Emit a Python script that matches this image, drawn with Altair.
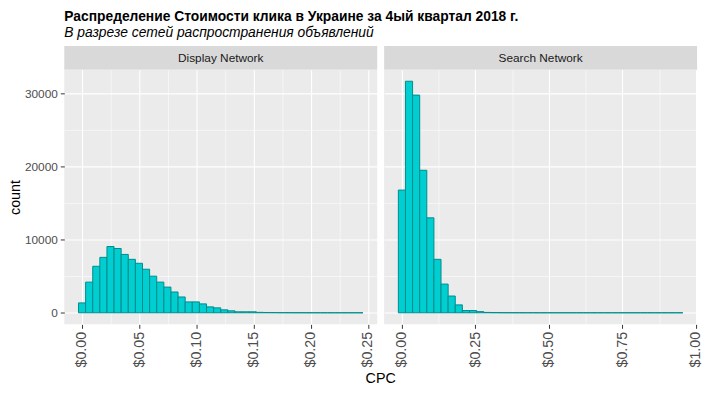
import altair as alt
import pandas as pd

# ---- data ----
networks = ["Display Network", "Search Network"]

display_counts = [1350, 4190, 6350, 7570, 9050, 8780, 7970, 7300, 6760, 5950,
                  5000, 4190, 3510, 2840, 2160, 1490, 1490, 1216, 810, 675,
                  405, 270, 135, 135, 135, 60, 40, 30, 20, 15,
                  10, 8, 5, 4, 3, 2, 2, 1, 1, 1]
display_bin_width = 0.00622

search_counts = [16760, 31620, 29730, 19460, 12970, 7300, 3920, 2290, 1080, 310,
                 310, 160, 50, 30, 20, 10, 8, 5, 4, 3,
                 2, 2, 1, 1, 1, 1, 1, 1, 1, 1,
                 1, 1, 1, 1, 1, 1, 1, 1, 1, 1]
search_bin_width = 0.0242

display_ticks = [0, 0.025, 0.05, 0.075, 0.10, 0.125, 0.15, 0.175, 0.20, 0.225, 0.25]
search_ticks = [0, 0.125, 0.25, 0.375, 0.5, 0.625, 0.75, 0.875, 1.0]
y_ticks = [0, 5000, 10000, 15000, 20000, 25000, 30000]
x_title = "CPC"
y_title = "count"

FONT = "Liberation Sans"
FILL = "#00CED1"
STROKE = "#008B8B"
PANEL_W = 317
PANEL_H = 258
STRIP_H = 24
GAP = 7


def bins_frame(counts, w):
    rows = []
    for i, c in enumerate(counts):
        rows.append({"start": (i - 0.5) * w, "end": (i + 0.5) * w, "count": c})
    return pd.DataFrame(rows)


ymax_data = max(max(display_counts), max(search_counts))
y_domain = [-0.05 * ymax_data, 1.05 * ymax_data]


def panel(df, ticks, major_mult, show_y):
    lo, hi = df["start"].min(), df["end"].max()
    span = hi - lo
    x_domain = [lo - 0.05 * span, hi + 0.05 * span]
    major_test = f"abs(datum.value*{major_mult} - round(datum.value*{major_mult})) < 1e-6"
    x_axis = alt.Axis(
        title=None,
        values=ticks,
        grid=True,
        gridColor="white",
        gridWidth={"condition": {"test": major_test, "value": 1.1}, "value": 0.55},
        domain=False,
        tickColor="#333333",
        tickSize=4,
        tickOpacity={"condition": {"test": major_test, "value": 1}, "value": 0},
        labelExpr=f"{major_test} ? '$' + format(datum.value, '.2f') : ''",
        labelAngle=270,
        labelFontSize=14.5,
        labelColor="#4D4D4D",
        labelPadding=3,
        labelFont=FONT,
    )

    y_major = "datum.value % 10000 === 0"
    y_common = dict(
        values=y_ticks,
        grid=True,
        gridColor="white",
        gridWidth={"condition": {"test": y_major, "value": 1.1}, "value": 0.55},
        domain=False,
    )
    if show_y:
        y_axis = alt.Axis(
            title=y_title, titleX=-45, titleY=PANEL_H / 2, titleAngle=270,
            titleBaseline="alphabetic", titleAlign="center",
            titleFontSize=14.5, titleFontWeight="normal", titleColor="black", titleFont=FONT,
            tickColor="#333333", tickSize=4,
            tickOpacity={"condition": {"test": y_major, "value": 1}, "value": 0},
            labelExpr=f"{y_major} ? format(datum.value, 'd') : ''",
            labelFontSize=12, labelColor="#4D4D4D", labelPadding=3, labelFont=FONT,
            **y_common)
    else:
        y_axis = alt.Axis(title=None, labels=False, ticks=False, **y_common)

    return alt.Chart(df).mark_rect(fill=FILL, stroke=STROKE, strokeWidth=1).encode(
        x=alt.X("start:Q", scale=alt.Scale(domain=x_domain, nice=False, zero=False), axis=x_axis),
        x2="end:Q",
        y=alt.Y("count:Q", scale=alt.Scale(domain=y_domain, nice=False, zero=False), axis=y_axis),
        y2=alt.datum(0),
    ).properties(
        width=PANEL_W, height=PANEL_H,
        view=alt.ViewBackground(fill="#EBEBEB", strokeWidth=0),
    )


def text_box(label, w, h, fill, size, color):
    return alt.Chart(pd.DataFrame({"label": [label]})).mark_text(
        font=FONT, fontSize=size, color=color, baseline="middle", align="center"
    ).encode(
        text="label:N",
        x=alt.value(w / 2),
        y=alt.value(h / 2 + 0.5),
    ).properties(
        width=w, height=h,
        view=alt.ViewBackground(fill=fill, strokeWidth=0),
    )


left = alt.vconcat(
    text_box(networks[0], PANEL_W, STRIP_H, "#D9D9D9", 12, "#1A1A1A"),
    panel(bins_frame(display_counts, display_bin_width), display_ticks, 20, True),
    spacing=0,
)
right = alt.vconcat(
    text_box(networks[1], PANEL_W, STRIP_H, "#D9D9D9", 12, "#1A1A1A"),
    panel(bins_frame(search_counts, search_bin_width), search_ticks, 4, False),
    spacing=0,
)

panels = alt.hconcat(left, right, spacing=GAP)
bottom = text_box(x_title, 2 * PANEL_W + GAP, 16, "white", 14.5, "black")

chart = alt.vconcat(panels, bottom, spacing=3).properties(
    title=alt.TitleParams(
        text="Распределение Стоимости клика в Украине за 4ый квартал 2018 г.",
        subtitle="В разрезе сетей распространения объявлений",
        anchor="start",
        frame="group",
        font=FONT,
        fontSize=14,
        fontWeight="bold",
        color="black",
        subtitleFont=FONT,
        subtitleFontSize=14,
        subtitleFontStyle="italic",
        subtitleColor="black",
        subtitlePadding=2,
        offset=6,
    ),
    padding={"left": 0, "top": 0, "right": 0, "bottom": 0},
    background="white",
).configure(font=FONT).configure_view(strokeWidth=0)

chart.save("out.html", embed_options={"renderer": "svg", "actions": False})
